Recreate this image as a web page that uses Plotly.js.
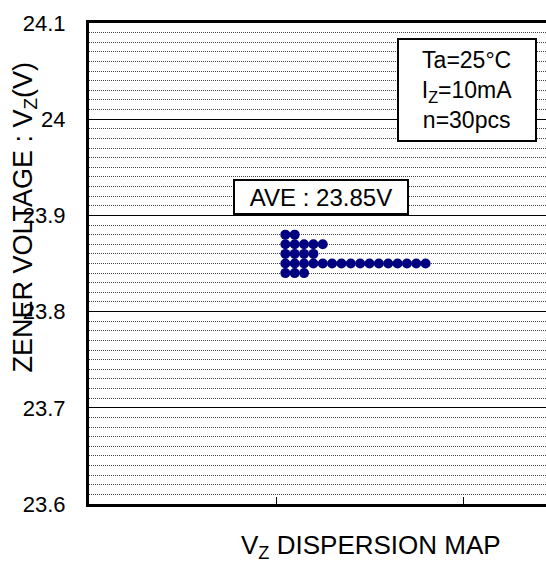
<!DOCTYPE html>
<html>
<head>
<meta charset="utf-8">
<script src="https://cdn.plot.ly/plotly-3.0.1.min.js"></script>
<style>html,body{margin:0;padding:0;background:#fff;}#chart{width:546px;height:562px;}</style>
</head>
<body>
<div id="chart"></div>
<script>
const voltages = [23.88, 23.87, 23.86, 23.85, 23.84];
const counts = [2, 5, 4, 16, 3];
const yTickVals = [23.6, 23.7, 23.8, 23.9, 24.0, 24.1];
const yTickText = ["23.6", "23.7", "23.8", "23.9", "24", "24.1"];
const xTickVals = [1, 2];
const aveText = "AVE : 23.85V";
const condText = ["Ta=25°C", "I<sub>Z</sub>=10mA", "n=30pcs"];

// Stack dots horizontally for each voltage level
const xs = [], ys = [];
const colStart = 1.05, colStep = 0.05;
voltages.forEach((v, i) => {
  for (let k = 0; k < counts[i]; k++) {
    xs.push(colStart + colStep * k);
    ys.push(v);
  }
});

const FONT = "Arial, 'Liberation Sans', sans-serif";

const data = [{
  type: 'scatter', mode: 'markers', x: xs, y: ys,
  marker: {color: '#000080', size: 10, line: {width: 0}},
  hoverinfo: 'skip', cliponaxis: false
}];

const layout = {
  width: 546, height: 562,
  margin: {l: 89, r: 0, t: 23, b: 58, pad: 0},
  paper_bgcolor: '#fff', plot_bgcolor: '#fff',
  showlegend: false, hovermode: false,
  font: {family: FONT, color: '#000', size: 22},
  xaxis: {
    range: [0, 457 / 187], showgrid: false, zeroline: false,
    showline: true, linecolor: '#000', linewidth: 3, mirror: true,
    tickvals: xTickVals, ticktext: ['', ''], ticks: 'inside', ticklen: 7,
    tickwidth: 1, tickcolor: '#000', fixedrange: true
  },
  yaxis: {
    range: [23.6, 24.1], zeroline: false,
    showline: true, linecolor: '#000', linewidth: 3,
    tickvals: yTickVals, ticktext: yTickText, ticks: '',
    ticklabelstandoff: 16,
    tickfont: {family: FONT, size: 22, color: '#000'},
    showgrid: true, gridcolor: '#000', gridwidth: 1,
    minor: {dtick: 0.01, tick0: 23.6, showgrid: true, gridcolor: '#444', gridwidth: 1, griddash: '1px,1px', ticks: ''},
    fixedrange: true
  },
  annotations: [
    {
      text: aveText, xref: 'x', yref: 'y', x: (321 - 89) / 187, y: 24.1 - (196.5 - 23) / 962,
      xanchor: 'center', yanchor: 'middle', showarrow: false,
      font: {family: FONT, size: 24, color: '#000'},
      bgcolor: '#fff', bordercolor: '#000', borderwidth: 2, borderpad: 1,
      width: 170, height: 30
    },
    {
      text: condText.join('<br>'), xref: 'x', yref: 'y', x: (467 - 89) / 187, y: 24.1 - (90 - 23) / 962,
      xanchor: 'center', yanchor: 'middle', showarrow: false, align: 'center',
      font: {family: FONT, size: 23, color: '#000'},
      bgcolor: '#fff', bordercolor: '#000', borderwidth: 2, borderpad: 1,
      width: 134, height: 98
    },
    {
      text: 'ZENER VOLTAGE : V<sub>Z</sub>(V)', xref: 'paper', yref: 'paper',
      x: (24 - 89) / 457, y: (504 - 217.5) / 481, xanchor: 'center', yanchor: 'middle',
      textangle: -90, showarrow: false,
      font: {family: FONT, size: 27, color: '#000'}
    },
    {
      text: 'V<sub>Z</sub> DISPERSION MAP', xref: 'x', yref: 'paper',
      x: (371 - 89) / 187, y: (504 - 546) / 481, xanchor: 'center', yanchor: 'middle',
      showarrow: false,
      font: {family: FONT, size: 26, color: '#000'}
    }
  ]
};

Plotly.newPlot('chart', data, layout, {displayModeBar: false, staticPlot: true});
</script>
</body>
</html>
